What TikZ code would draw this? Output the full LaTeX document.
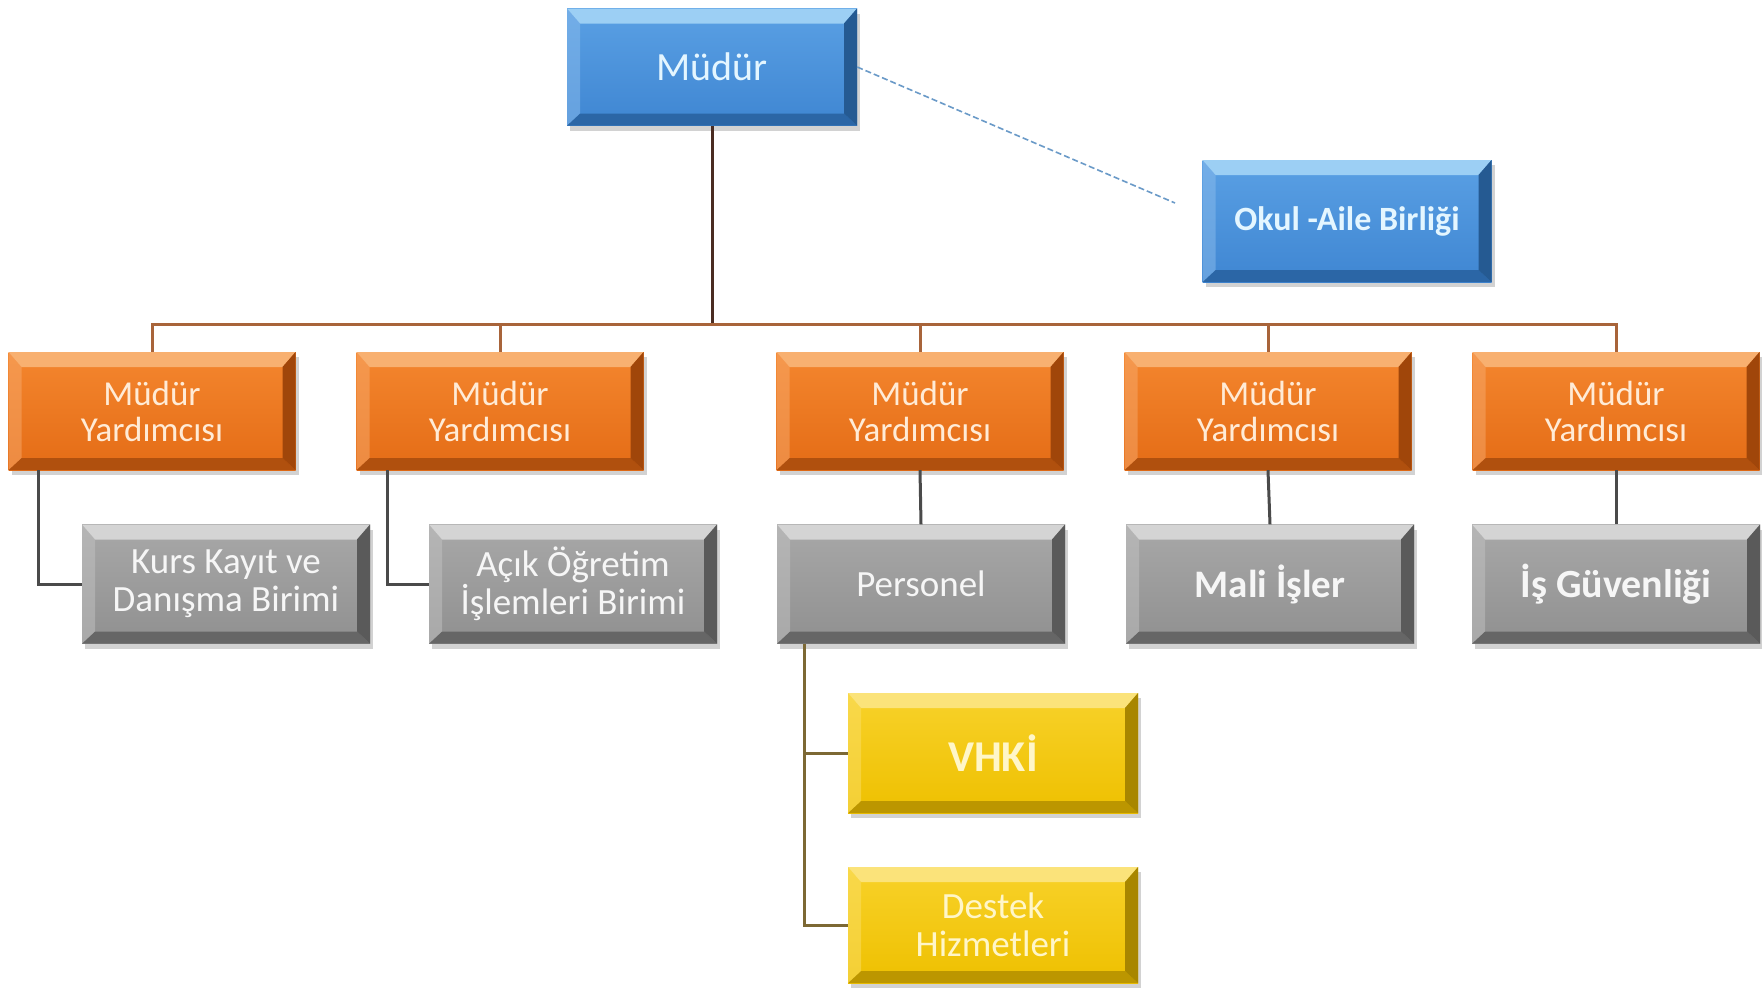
\documentclass[tikz,border=0pt]{standalone}
\usepackage{fontspec}
\setmainfont{Carlito}
\usetikzlibrary{shadows}
\definecolor{bface1}{HTML}{5AA0E4}\definecolor{bface2}{HTML}{3F86D2}
\definecolor{btop}{HTML}{9CCFF4}\definecolor{bbot}{HTML}{2B66A6}\definecolor{bright}{HTML}{255A92}
\definecolor{btext}{HTML}{E4F6FF}
\definecolor{oface1}{HTML}{F4862E}\definecolor{oface2}{HTML}{E46C16}
\definecolor{otop}{HTML}{F8B070}\definecolor{obot}{HTML}{B0500E}\definecolor{oright}{HTML}{A0460A}
\definecolor{otext}{HTML}{FFEBD6}
\definecolor{gface1}{HTML}{A8A8A8}\definecolor{gface2}{HTML}{909090}
\definecolor{gtop}{HTML}{D4D4D4}\definecolor{gbot}{HTML}{666666}\definecolor{gright}{HTML}{5A5A5A}
\definecolor{gtext}{HTML}{F6F6F6}
\definecolor{yface1}{HTML}{F8D22A}\definecolor{yface2}{HTML}{EEC000}
\definecolor{ytop}{HTML}{FBE37A}\definecolor{ybot}{HTML}{BC9600}\definecolor{yright}{HTML}{A88600}
\definecolor{ytext}{HTML}{FFF6C8}
\definecolor{mainline}{HTML}{4A2C22}
\definecolor{busline}{HTML}{A8643A}
\definecolor{grayline}{HTML}{4A4A4A}
\definecolor{olive}{HTML}{7C6834}
\definecolor{dashblue}{HTML}{6A9AC8}
\tikzset{
  bx/.style n args={6}{draw=none, inner sep=0pt, align=center, text=#6, fill=#2,
    drop shadow={opacity=0.35, shadow xshift=3pt, shadow yshift=-5pt},
    path picture={
      \shade[top color=#1, bottom color=#2] (path picture bounding box.north west) rectangle (path picture bounding box.south east);
      \fill[#3] (path picture bounding box.north west) -- (path picture bounding box.north east) -- ([shift={(-13pt,-15pt)}]path picture bounding box.north east) -- ([shift={(13pt,-15pt)}]path picture bounding box.north west) -- cycle;
      \fill[#4] (path picture bounding box.south west) -- (path picture bounding box.south east) -- ([shift={(-13pt,12pt)}]path picture bounding box.south east) -- ([shift={(13pt,12pt)}]path picture bounding box.south west) -- cycle;
      \fill[#5] (path picture bounding box.north east) -- (path picture bounding box.south east) -- ([shift={(-13pt,12pt)}]path picture bounding box.south east) -- ([shift={(-13pt,-15pt)}]path picture bounding box.north east) -- cycle;
      \fill[#1!70!white, opacity=0.5] (path picture bounding box.north west) -- (path picture bounding box.south west) -- ([shift={(13pt,12pt)}]path picture bounding box.south west) -- ([shift={(13pt,-15pt)}]path picture bounding box.north west) -- cycle;
    }},
  bluebox/.style={bx={bface1}{bface2}{btop}{bbot}{bright}{btext}},
  orbox/.style={bx={oface1}{oface2}{otop}{obot}{oright}{otext}, minimum width=287pt, minimum height=118pt, font=\fontsize{35}{36}\selectfont},
  graybox/.style={bx={gface1}{gface2}{gtop}{gbot}{gright}{gtext}, minimum width=288pt, minimum height=119pt, font=\fontsize{37}{38}\selectfont},
  yelbox/.style={bx={yface1}{yface2}{ytop}{ybot}{yright}{ytext}, minimum width=290pt},
  conn/.style={line width=3pt},
}
\begin{document}
\begin{tikzpicture}[x=1pt,y=-1pt]
\useasboundingbox[fill=white] (0,0) rectangle (1762,988);
% top level
\node[bluebox, minimum width=290pt, minimum height=117pt, font=\fontsize{40}{40}\selectfont] (mudur) at (712,67) {Müdür};
\node[bluebox, minimum width=289pt, minimum height=122pt, font=\bfseries\fontsize{34}{36}\selectfont] (okul) at (1347,221) {Okul -Aile Birliği};
% assistants
\node[orbox] (o1) at (152,411) {Müdür\\Yardımcısı};
\node[orbox] (o2) at (500,411) {Müdür\\Yardımcısı};
\node[orbox] (o3) at (920,411) {Müdür\\Yardımcısı};
\node[orbox] (o4) at (1268,411) {Müdür\\Yardımcısı};
\node[orbox] (o5) at (1616,411) {Müdür\\Yardımcısı};
% units
\node[graybox] (g1) at (226,584) {Kurs Kayıt ve\\Danışma Birimi};
\node[graybox] (g2) at (573,584) {Açık Öğretim\\İşlemleri Birimi};
\node[graybox] (g3) at (921,584) {Personel};
\node[graybox, font=\bfseries\fontsize{39}{40}\selectfont] (g4) at (1270,584) {Mali İşler};
\node[graybox, font=\bfseries\fontsize{40}{40}\selectfont] (g5) at (1616,584) {İş Güvenliği};
% personel sub-units
\node[yelbox, minimum height=120pt, font=\bfseries\fontsize{44}{44}\selectfont] (vhki) at (993,753) {VHKİ};
\node[yelbox, minimum height=116pt, font=\fontsize{37}{38}\selectfont] (destek) at (993,925) {Destek\\Hizmetleri};
% connectors
\coordinate (bus) at (712,324);
\coordinate (dashend) at (1175,203);
\draw[conn, mainline] (mudur.south) -- (bus);
\foreach \n in {o1,o2,o3,o4,o5} \draw[conn, busline] (\n.north) |- (bus);
\draw[dashblue, line width=1.6pt, dash pattern=on 6pt off 3pt] (mudur.east) -- (dashend);
\draw[conn, grayline] (o1.south west) ++(30,0) |- (g1.west);
\draw[conn, grayline] (o2.south west) ++(31,0) |- (g2.west);
\draw[conn, grayline] (o3.south) -- (g3.north);
\draw[conn, grayline] (o4.south) -- (g4.north);
\draw[conn, grayline] (o5.south) -- (g5.north);
\draw[conn, olive] (g3.south west) ++(28,0) |- (vhki.west);
\draw[conn, olive] (g3.south west) ++(28,0) |- (destek.west);
\end{tikzpicture}
\end{document}
